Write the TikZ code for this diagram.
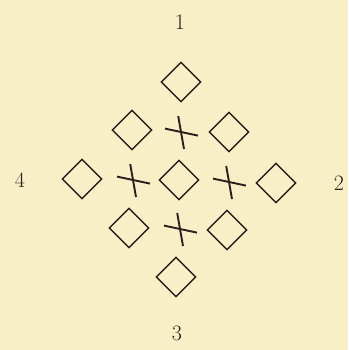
\documentclass[tikz,border=0pt]{standalone}
\usetikzlibrary{shapes.geometric}
\definecolor{paper}{RGB}{249,239,198}
\definecolor{ink}{RGB}{40,32,28}
\begin{document}
\begin{tikzpicture}[x=1pt,y=-1pt,
  dia/.style={diamond,draw=ink,line width=1.4pt,inner sep=0pt,minimum width=40pt,minimum height=40pt},
  crsline/.style={draw=ink,line width=1.9pt},
  crs/.pic={\coordinate (-c) at (0,0);
    \draw[crsline] (-16,-3.4) -- (17,3.6);
    \draw[crsline] (-2.8,-16) -- (3,17);},
  lbl/.style={text=ink,font=\fontsize{22}{26}\selectfont,inner sep=0pt}]
\fill[paper] (0,0) rectangle (348,350);
\useasboundingbox (0,0) rectangle (348,350);
\node[lbl] (l1) at (180,22) {1};
\node[lbl] (l2) at (339,183) {2};
\node[lbl] (l3) at (177,333) {3};
\node[lbl] (l4) at (20,180) {4};
\node[dia] (d1) at (181,82) {};
\node[dia] (d2) at (132,130) {};
\pic (x1) at (181,132) {crs};
\node[dia] (d3) at (229,132) {};
\node[dia] (d4) at (82,179) {};
\pic (x2) at (133,180) {crs};
\node[dia] (d5) at (179,180) {};
\pic (x3) at (229,182) {crs};
\node[dia] (d6) at (276,183) {};
\node[dia] (d7) at (129,228) {};
\pic (x4) at (180,229) {crs};
\node[dia] (d8) at (227,230) {};
\node[dia] (d9) at (176,277) {};
\end{tikzpicture}
\end{document}
